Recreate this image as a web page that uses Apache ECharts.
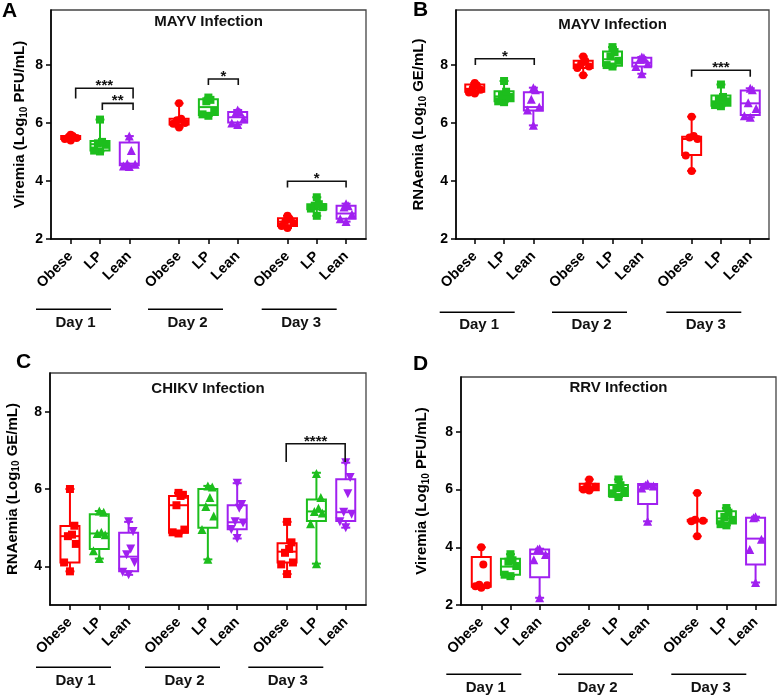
<!DOCTYPE html>
<html><head><meta charset="utf-8">
<script src="https://cdn.jsdelivr.net/npm/echarts@6/dist/echarts.min.js"></script>
<style>html,body{margin:0;padding:0;background:#fff}#c{width:777px;height:696px}</style>
</head><body><div id="c"></div>
<script>
// ---------- data ----------
const groupNames = ['Obese', 'LP', 'Lean'];
const dayNames = ['Day 1', 'Day 2', 'Day 3'];
const xPositions = [0, 1, 2, 3.7, 4.7, 5.7, 7.4, 8.4, 9.4];
const xLabels = ['Obese', 'LP', 'Lean', 'Obese', 'LP', 'Lean', 'Obese', 'LP', 'Lean'];

const panelLetters = ['A', 'B', 'C', 'D'];
const panelTitles = ['MAYV Infection', 'MAYV Infection', 'CHIKV Infection', 'RRV Infection'];
const yTitles = ['Viremia (Log{s|10} PFU/mL)', 'RNAemia (Log{s|10} GE/mL)', 'RNAemia (Log{s|10} GE/mL)', 'Viremia (Log{s|10} PFU/mL)'];
const yTickValues = [[2, 4, 6, 8], [2, 4, 6, 8], [4, 6, 8], [2, 4, 6, 8]];
const yMins = [2, 2, 3, 2];
const yMaxs = [9.9, 9.9, 9, 9.9];

// box stats: [min, Q1, median, Q3, max], order: D1 Obese, LP, Lean, D2 ..., D3 ...
const boxA = [
  [5.40, 5.45, 5.50, 5.55, 5.60], [5.02, 5.05, 5.27, 5.38, 6.12], [4.50, 4.54, 4.60, 5.33, 5.55],
  [5.85, 5.95, 6.02, 6.15, 6.68], [6.25, 6.28, 6.55, 6.82, 6.88], [5.95, 6.02, 6.20, 6.38, 6.45],
  [2.38, 2.45, 2.60, 2.72, 2.80], [2.80, 3.03, 3.12, 3.20, 3.44], [2.60, 2.70, 2.88, 3.15, 3.22]
];
const pointsA = [
  [5.40, 5.45, 5.48, 5.52, 5.55, 5.60], [5.02, 5.05, 5.25, 5.30, 5.35, 6.12], [4.50, 4.52, 4.58, 4.60, 5.05, 5.55],
  [5.85, 5.98, 6.00, 6.10, 6.15, 6.68], [6.25, 6.30, 6.40, 6.75, 6.80, 6.88], [5.95, 6.00, 6.15, 6.35, 6.38, 6.45],
  [2.38, 2.45, 2.55, 2.62, 2.70, 2.80], [2.80, 3.05, 3.10, 3.15, 3.20, 3.44], [2.60, 2.70, 2.85, 3.10, 3.15, 3.22]
];
const boxB = [
  [7.02, 7.08, 7.18, 7.33, 7.38], [6.72, 6.75, 6.92, 7.10, 7.45], [5.92, 6.43, 6.55, 7.06, 7.22],
  [7.65, 7.90, 8.02, 8.15, 8.30], [7.95, 7.98, 8.20, 8.47, 8.62], [7.70, 7.95, 8.08, 8.25, 8.28],
  [4.35, 4.90, 5.45, 5.53, 6.22], [6.58, 6.60, 6.75, 6.95, 7.33], [6.20, 6.28, 6.68, 7.12, 7.20]
];
const pointsB = [
  [7.02, 7.05, 7.15, 7.20, 7.30, 7.38], [6.72, 6.75, 6.90, 6.95, 7.08, 7.45], [5.92, 6.45, 6.55, 6.82, 7.15, 7.22],
  [7.65, 7.90, 7.95, 8.05, 8.15, 8.30], [7.95, 8.00, 8.15, 8.30, 8.45, 8.62], [7.70, 7.95, 8.05, 8.20, 8.25, 8.28],
  [4.35, 4.88, 5.45, 5.50, 5.55, 6.22], [6.58, 6.62, 6.75, 6.80, 6.90, 7.33], [6.20, 6.25, 6.50, 6.70, 7.15, 7.20]
];
const boxC = [
  [3.87, 4.10, 4.78, 5.04, 6.00], [4.20, 4.45, 4.85, 5.35, 5.43], [3.78, 3.87, 4.25, 4.87, 5.15],
  [4.85, 4.87, 5.58, 5.82, 5.90], [4.18, 5.00, 5.58, 6.00, 6.08], [4.72, 4.96, 5.14, 5.58, 6.15],
  [3.80, 4.10, 4.38, 4.60, 5.15], [4.07, 5.17, 5.42, 5.73, 6.42], [5.00, 5.17, 5.40, 6.25, 6.68]
];
const pointsC = [
  [3.87, 4.10, 4.58, 4.78, 4.82, 5.05, 6.00], [4.20, 4.40, 4.82, 4.85, 4.88, 5.40, 5.43], [3.78, 3.85, 4.10, 4.30, 4.45, 4.90, 5.15],
  [4.85, 4.88, 4.95, 5.58, 5.82, 5.85, 5.90], [4.18, 4.95, 5.30, 5.55, 5.78, 6.05, 6.08], [4.72, 4.95, 5.12, 5.15, 5.50, 5.60, 6.15],
  [3.80, 4.05, 4.10, 4.35, 4.45, 4.62, 5.15], [4.07, 5.10, 5.38, 5.42, 5.50, 5.78, 6.40], [5.00, 5.15, 5.35, 5.40, 5.88, 6.30, 6.68]
];
const boxD = [
  [2.60, 2.63, 2.68, 3.66, 4.00], [3.00, 3.05, 3.33, 3.60, 3.76], [2.25, 2.96, 3.77, 3.92, 3.95],
  [5.97, 5.98, 6.08, 6.20, 6.35], [5.74, 5.78, 5.97, 6.16, 6.35], [4.90, 5.50, 6.15, 6.19, 6.20],
  [4.38, 4.90, 4.92, 4.95, 5.88], [4.76, 4.82, 5.00, 5.25, 5.36], [2.78, 3.40, 4.30, 5.02, 5.06]
];
const pointsD = [
  [2.60, 2.65, 2.68, 2.70, 3.40, 4.00], [3.00, 3.05, 3.35, 3.50, 3.55, 3.76], [2.25, 3.57, 3.75, 3.93, 3.95],
  [5.97, 6.00, 6.10, 6.12, 6.35], [5.74, 5.85, 5.95, 6.05, 6.15, 6.35], [4.90, 6.05, 6.12, 6.15, 6.20],
  [4.38, 4.90, 4.92, 4.95, 5.88], [4.76, 4.80, 4.95, 5.05, 5.20, 5.36], [2.78, 3.92, 4.28, 5.02, 5.06]
];
// significance brackets: [x from, x to, top value, leg end value]
const sigA = [[0.17, 2.13, 7.20, 6.85], [1.08, 2.13, 6.68, 6.45], [4.70, 5.72, 7.52, 7.31], [7.40, 9.40, 3.99, 3.78]];
const sigLabelsA = ['***', '**', '*', '*'];
const sigB = [[0.02, 2.03, 8.22, 8.00], [7.40, 9.40, 7.82, 7.60]];
const sigLabelsB = ['*', '***'];
const sigC = [[7.37, 9.38, 7.17, 6.70]];
const sigLabelsC = ['****'];
const sigD = [];
const sigLabelsD = [];

// ---------- layout / style ----------
const FONT = "'Liberation Sans', Arial, sans-serif";
const colors = ['#FF0000', '#1DBE1D', '#A020F0'];
const panels = [
  { box: boxA, pts: pointsA, sig: sigA, sigL: sigLabelsA, sym: ['circle', 'rect', 'triangle'], rot: [0, 0, 0] },
  { box: boxB, pts: pointsB, sig: sigB, sigL: sigLabelsB, sym: ['circle', 'rect', 'triangle'], rot: [0, 0, 0] },
  { box: boxC, pts: pointsC, sig: sigC, sigL: sigLabelsC, sym: ['rect', 'triangle', 'triangle'], rot: [0, 0, 180] },
  { box: boxD, pts: pointsD, sig: sigD, sigL: sigLabelsD, sym: ['circle', 'rect', 'triangle'], rot: [0, 0, 0] }
];
const grids = [
  { left: 51, top: 10, width: 315, height: 229 },
  { left: 456, top: 10, width: 313, height: 229 },
  { left: 50, top: 373, width: 316, height: 232 },
  { left: 461, top: 377, width: 315, height: 228 }
];
const xRanges = [[-0.672, 10.08], [-0.64, 10.04], [-0.68, 10.09], [-0.695, 10.1]];
const nameGaps = [22, 28, 28.5, 30];
const titlePos = [[208.5, 22], [612.5, 24.5], [208, 389], [618.5, 387.5]];
const letterPos = [[2, 11], [413, 10], [16, 362], [413, 364.5]];
const dayLineY = [309.3, 312.3, 667.3, 674.3];
const dayLineX = [[36, 148, 261.7], [439.7, 552, 666.3], [36, 145, 248.3], [446.3, 558, 671.3]];
const dayTextY = [322.5, 324.5, 681, 687.5];
const dayLineW = 75;

const chart = echarts.init(document.getElementById('c'), null, { renderer: 'canvas' });

const xAxes = [], yAxes = [], series = [], graphics = [];
panels.forEach((p, pi) => {
  xAxes.push({
    type: 'value', gridIndex: pi, min: xRanges[pi][0], max: xRanges[pi][1],
    splitLine: { show: false },
    axisLine: { show: true, onZero: false, lineStyle: { color: '#000', width: 1.6 } },
    axisTick: { show: true, length: 5, customValues: xPositions, lineStyle: { color: '#000', width: 1.5 } },
    axisLabel: {
      customValues: xPositions, rotate: 45, margin: 15, color: '#000', fontSize: 14.5, fontWeight: 'bold', fontFamily: FONT,
      formatter: v => { const i = xPositions.findIndex(q => Math.abs(q - v) < 1e-6); return i >= 0 ? xLabels[i] : ''; }
    }
  });
  yAxes.push({
    type: 'value', gridIndex: pi, min: yMins[pi], max: yMaxs[pi],
    splitLine: { show: false },
    name: yTitles[pi], nameLocation: 'middle', nameGap: nameGaps[pi],
    nameTextStyle: {
      fontSize: 15, fontWeight: 'bold', color: '#000', fontFamily: FONT, lineHeight: 18,
      rich: { s: { fontSize: 10, fontWeight: 'bold', color: '#000', fontFamily: FONT, lineHeight: 10, verticalAlign: 'bottom' } }
    },
    axisLine: { show: true, onZero: false, lineStyle: { color: '#000', width: 1.6 } },
    axisTick: { show: true, length: 5, customValues: yTickValues[pi], lineStyle: { color: '#000', width: 1.5 } },
    axisLabel: { customValues: yTickValues[pi], margin: 8, color: '#000', fontSize: 14, fontWeight: 'bold', fontFamily: FONT }
  });

  // boxes
  series.push({
    type: 'custom', xAxisIndex: pi, yAxisIndex: pi, z: 2,
    encode: { x: 0, y: [1, 2, 3, 4, 5] },
    data: p.box.map((b, i) => [xPositions[i], b[0], b[1], b[2], b[3], b[4], i % 3]),
    renderItem: (params, api) => {
      const x = api.value(0);
      const c = colors[api.value(6)];
      const pMin = api.coord([x, api.value(1)]);
      const pQ1 = api.coord([x, api.value(2)]);
      const pMed = api.coord([x, api.value(3)]);
      const pQ3 = api.coord([x, api.value(4)]);
      const pMax = api.coord([x, api.value(5)]);
      const cx = pMin[0], hw = 9.5, cap = 4.5;
      const st = { stroke: c, lineWidth: 2, fill: null };
      return {
        type: 'group', children: [
          { type: 'line', shape: { x1: cx, y1: pMax[1], x2: cx, y2: pQ3[1] }, style: st },
          { type: 'line', shape: { x1: cx, y1: pQ1[1], x2: cx, y2: pMin[1] }, style: st },
          { type: 'line', shape: { x1: cx - cap, y1: pMax[1], x2: cx + cap, y2: pMax[1] }, style: st },
          { type: 'line', shape: { x1: cx - cap, y1: pMin[1], x2: cx + cap, y2: pMin[1] }, style: st },
          { type: 'rect', shape: { x: cx - hw, y: pQ3[1], width: 2 * hw, height: pQ1[1] - pQ3[1] }, style: { stroke: c, lineWidth: 2, fill: 'rgba(255,255,255,0)' } },
          { type: 'line', shape: { x1: cx - hw, y1: pMed[1], x2: cx + hw, y2: pMed[1] }, style: st }
        ]
      };
    }
  });

  // points
  const jit = [-0.2, 0.2, -0.07, 0.07, 0.15, -0.15];
  for (let g = 0; g < 3; g++) {
    const data = [];
    for (let d = 0; d < 3; d++) {
      const i = d * 3 + g;
      const pts = p.pts[i];
      const mn = Math.min(...pts), mx = Math.max(...pts);
      let k = 0;
      pts.forEach(v => {
        let off = 0;
        if (v !== mn && v !== mx) { off = jit[k % jit.length]; k++; }
        data.push([xPositions[i] + off, v]);
      });
    }
    series.push({
      type: 'scatter', xAxisIndex: pi, yAxisIndex: pi, z: 3,
      symbol: p.sym[g], symbolRotate: p.rot[g], symbolSize: p.sym[g] === 'triangle' ? 9 : 8,
      itemStyle: { color: colors[g], opacity: 1 },
      data: data, silent: true
    });
  }

  // significance brackets
  if (p.sig.length) {
    const labels = p.sigL;
    series.push({
      type: 'custom', xAxisIndex: pi, yAxisIndex: pi, z: 4,
      encode: { x: [0, 1], y: [2, 3] },
      data: p.sig,
      renderItem: (params, api) => {
        const a = api.coord([api.value(0), api.value(3)]);
        const b = api.coord([api.value(0), api.value(2)]);
        const c = api.coord([api.value(1), api.value(2)]);
        const d = api.coord([api.value(1), api.value(3)]);
        return {
          type: 'group', children: [
            { type: 'polyline', shape: { points: [a, b, c, d] }, style: { stroke: '#111', lineWidth: 1.6, fill: null } },
            { type: 'text', x: (b[0] + c[0]) / 2, y: b[1] - 2, style: { text: labels[params.dataIndex], align: 'center', verticalAlign: 'middle', font: 'bold 15px ' + FONT, fill: '#111' } }
          ]
        };
      }
    });
  }

  // titles, letters, day lines
  graphics.push({ type: 'text', x: titlePos[pi][0], y: titlePos[pi][1], style: { text: panelTitles[pi], align: 'center', verticalAlign: 'middle', font: 'bold 15px ' + FONT, fill: '#111' } });
  graphics.push({ type: 'text', x: letterPos[pi][0], y: letterPos[pi][1], style: { text: panelLetters[pi], align: 'left', verticalAlign: 'middle', font: 'bold 21px ' + FONT, fill: '#000' } });
  dayNames.forEach((dn, di) => {
    const x0 = dayLineX[pi][di];
    graphics.push({ type: 'line', shape: { x1: x0, y1: dayLineY[pi], x2: x0 + dayLineW, y2: dayLineY[pi] }, style: { stroke: '#000', lineWidth: 1.6 } });
    graphics.push({ type: 'text', x: x0 + dayLineW / 2 + 2, y: dayTextY[pi], style: { text: dn, align: 'center', verticalAlign: 'middle', font: 'bold 15px ' + FONT, fill: '#111' } });
  });
});

chart.setOption({
  animation: false,
  textStyle: { fontFamily: FONT },
  grid: grids.map(g => Object.assign({ show: true, borderColor: '#444', borderWidth: 1.3, backgroundColor: 'transparent', containLabel: false }, g)),
  xAxis: xAxes,
  yAxis: yAxes,
  series: series,
  graphic: graphics
});
</script>
</body></html>
